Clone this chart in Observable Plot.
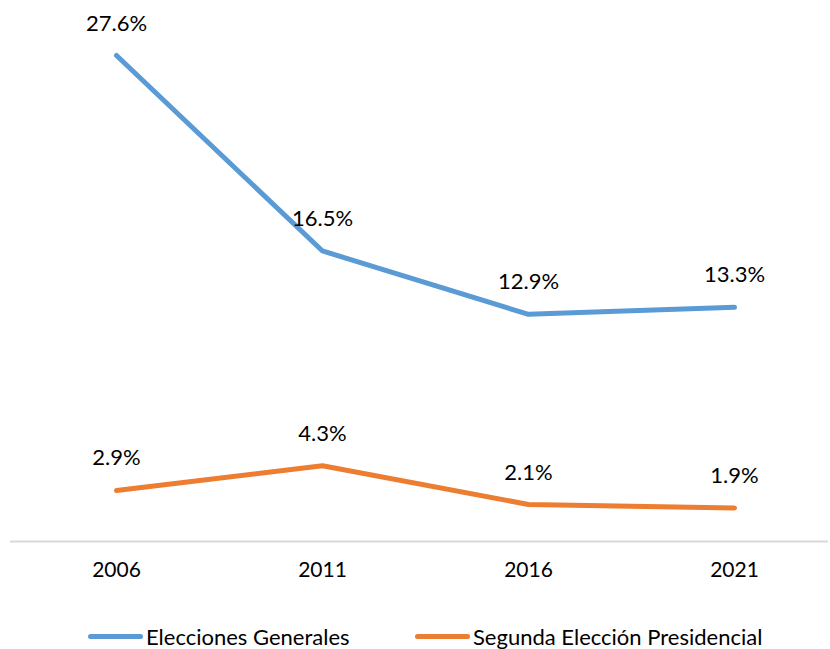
<!DOCTYPE html>
<html><head><meta charset="utf-8">
<script src="https://cdn.jsdelivr.net/npm/d3@7"></script>
<script src="https://cdn.jsdelivr.net/npm/@observablehq/plot@0.6"></script>
<style>
body{margin:0;background:#fff;font-family:Lato,"Open Sans",sans-serif;}
#legend{position:absolute;top:623px;left:0;width:830px;height:30px;font-size:22px;color:#000;}
.item{position:absolute;top:0;display:flex;align-items:center;}
.sw{width:55px;height:5px;border-radius:3px;margin-right:3px;}
</style></head><body>
<div id="chart"></div>
<div id="legend"></div>
<script>
const years = ["2006","2011","2016","2021"];
const generales = [27.6, 16.5, 12.9, 13.3];
const segunda = [2.9, 4.3, 2.1, 1.9];
const seriesNames = ["Elecciones Generales","Segunda Elección Presidencial"];
const colors = ["#5b9bd5","#ed7d31"];

const data = [];
years.forEach((y,i)=>{
  data.push({year:y, value:generales[i], series:seriesNames[0]});
  data.push({year:y, value:segunda[i], series:seriesNames[1]});
});

const plot = Plot.plot({
  width: 830, height: 600,
  marginLeft: 10, marginRight: 2, marginTop: 0, marginBottom: 59,
  style:{fontFamily:"Lato, 'Open Sans', sans-serif", fontSize:"21px", color:"#000", background:"#fff"},
  x:{type:"point", domain:years, range:[115,735], padding:0, label:null, tickSize:0, tickPadding:21},
  y:{domain:[0,27.6], range:[541,55], axis:null},
  color:{domain:seriesNames, range:colors},
  marks:[
    Plot.ruleY([0],{stroke:"#d9d9d9", strokeWidth:2}),
    Plot.line(data,{x:"year", y:"value", z:"series", stroke:"series", strokeWidth:5, strokeLinecap:"round", strokeLinejoin:"round"}),
    Plot.text(data,{x:"year", y:"value", text:d=>d.value.toFixed(1)+"%", dy:-32, fill:"#000", fontSize:22})
  ]
});
document.getElementById("chart").appendChild(plot);

const lg = document.getElementById("legend");
const lefts = [88, 415];
seriesNames.forEach((n,i)=>{
  const it = document.createElement("div");
  it.className="item"; it.style.left=lefts[i]+"px";
  const sw=document.createElement("div"); sw.className="sw"; sw.style.background=colors[i];
  const t=document.createElement("span"); t.textContent=n;
  it.appendChild(sw); it.appendChild(t); lg.appendChild(it);
});
</script>
</body></html>
